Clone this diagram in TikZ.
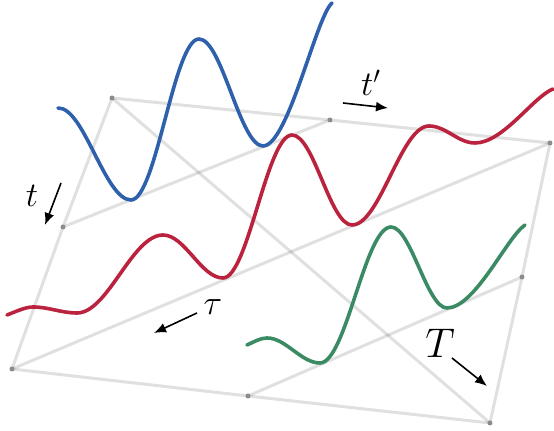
\documentclass[tikz,border=0pt]{standalone}
\usepackage{tikz}
\usetikzlibrary{positioning,arrows.meta}
\definecolor{wblue}{RGB}{46,96,172}
\definecolor{wred}{RGB}{186,34,62}
\definecolor{wgreen}{RGB}{58,138,100}

\begin{document}
\begin{tikzpicture}[
  x=0.5pt, y=-0.5pt,
  grid/.style={draw=black, opacity=0.12, line width=1.5pt},
  vtx/.style={circle, fill=black!45, inner sep=0pt, minimum size=2.5pt},
  wave/.style={line width=1.8pt, line cap=round},
  dirarrow/.style={-{Latex[length=6pt,width=5pt]}, line width=0.8pt},
  lab/.style={font=\LARGE, inner sep=0pt}
]
\useasboundingbox (0,0) rectangle (554,431);

\coordinate (nw) at (112,98);
\coordinate (n)  at (330,120);
\coordinate (ne) at (550,143);
\coordinate (w)  at (63,227);
\coordinate (e)  at (522,277);
\coordinate (sw) at (12,369);
\coordinate (s)  at (248,396);
\coordinate (se) at (490,423);

\draw[grid] (nw) -- (n);
\draw[grid] (n) -- (ne);
\draw[grid] (nw) -- (w);
\draw[grid] (w) -- (sw);
\draw[grid] (ne) -- (e);
\draw[grid] (e) -- (se);
\draw[grid] (sw) -- (s);
\draw[grid] (s) -- (se);
\draw[grid] (w) -- (n);
\draw[grid] (s) -- (e);
\draw[grid] (sw) -- (ne);
\draw[grid] (nw) -- (se);

\foreach \p in {nw,n,ne,w,e,sw,s,se}
  \node[vtx] at (\p) {};

\draw[wave, wblue] (58,108)
  .. controls +(26,-1) and +(-26,0) .. (131,200)
  .. controls +(25,0) and +(-25,0) .. (199,39)
  .. controls +(23,0) and +(-23,0) .. (263,146)
  .. controls +(25,0) and +(-16,14) .. (332,3);

\draw[wave, wred] (7,315)
  .. controls +(8,-3) and +(-8,0) .. (33,307)
  .. controls +(16,0) and +(-16,0) .. (77,313)
  .. controls +(31,0) and +(-31,0) .. (163,235)
  .. controls +(22,0) and +(-22,0) .. (223,278)
  .. controls +(25,0) and +(-25,0) .. (292,135)
  .. controls +(22,0) and +(-22,0) .. (352,225)
  .. controls +(28,0) and +(-28,0) .. (429,126)
  .. controls +(17,0) and +(-17,0) .. (475,143)
  .. controls +(28,0) and +(-20,8) .. (553,89);

\draw[wave, wgreen] (247,345)
  .. controls +(7,-3) and +(-7,0) .. (267,338)
  .. controls +(19,0) and +(-19,0) .. (320,363)
  .. controls +(26,0) and +(-26,0) .. (391,227)
  .. controls +(20,0) and +(-20,0) .. (447,308)
  .. controls +(28,0) and +(-18,12) .. (525,225);

\node[lab] (tlab) at (32,196) {$t$};
\coordinate (ta) at (61,183);
\coordinate (tb) at (45,225);
\draw[dirarrow] (ta) -- (tb);

\node[lab] (tplab) at (371,83) {$t'$};
\coordinate (tpa) at (343,103);
\coordinate (tpb) at (388,108);
\draw[dirarrow] (tpa) -- (tpb);

\node[lab] (taulab) at (213,307) {$\tau$};
\coordinate (taua) at (197,313);
\coordinate (taub) at (154,333);
\draw[dirarrow] (taua) -- (taub);

\node[lab, font=\huge] (Tlab) at (440,343) {$T$};
\coordinate (Ta) at (452,358);
\coordinate (Tb) at (487,386);
\draw[dirarrow] (Ta) -- (Tb);

\end{tikzpicture}
\end{document}
